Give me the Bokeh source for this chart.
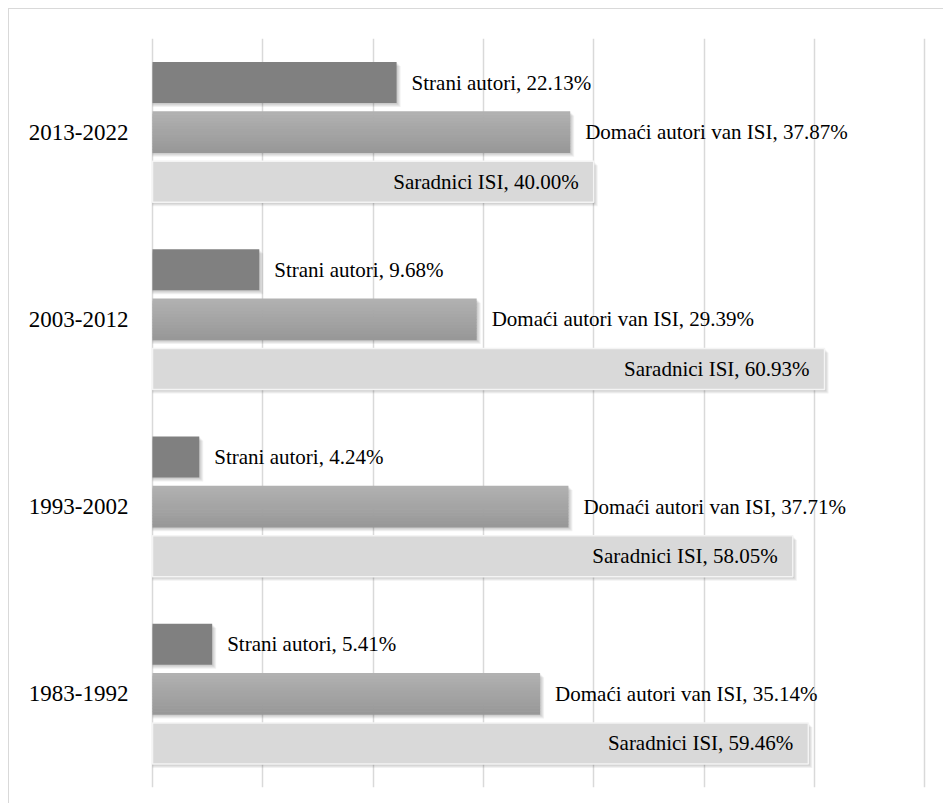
from bokeh.plotting import figure
from bokeh.models import ColumnDataSource, Range1d, FactorRange, FixedTicker
from bokeh.transform import dodge
from bokeh.core.properties import value
from bokeh.embed import file_html
from bokeh.resources import INLINE

# ---- data ----
periods = ["1983-1992", "1993-2002", "2003-2012", "2013-2022"]
strani = [5.41, 4.24, 9.68, 22.13]
domaci = [35.14, 37.71, 29.39, 37.87]
saradnici = [59.46, 58.05, 60.93, 40.00]
series_names = ["Strani autori", "Domaći autori van ISI", "Saradnici ISI"]
x_ticks = [0, 10, 20, 30, 40, 50, 60, 70]

# ---- layout constants ----
W, H = 935, 795
LEFT, TOP, BOTTOM = 134, 29, 17
PX_PER_UNIT = 11.03
X0 = -9 / PX_PER_UNIT
X1 = X0 + (W - LEFT) / PX_PER_UNIT
CAT_PX = (H - TOP - BOTTOM) / len(periods)
BAR_H = 0.219
OFF = 0.265
FONT = value("Liberation Serif")

src = ColumnDataSource(dict(
    period=periods,
    strani=strani,
    domaci=domaci,
    saradnici=saradnici,
    strani_lbl=[f"{series_names[0]}, {v:.2f}%" for v in strani],
    domaci_lbl=[f"{series_names[1]}, {v:.2f}%" for v in domaci],
    saradnici_lbl=[f"{series_names[2]}, {v:.2f}%" for v in saradnici],
))

p = figure(width=W, height=H,
           y_range=FactorRange(factors=periods),
           x_range=Range1d(X0, X1),
           output_backend="svg", toolbar_location=None,
           min_border_left=LEFT, min_border_right=0,
           min_border_top=TOP, min_border_bottom=BOTTOM)
p.styles = {"margin-left": "8px", "margin-top": "8px",
            "border-left": "1px solid #d9d9d9", "border-top": "1px solid #d9d9d9"}
p.outline_line_color = None
p.xaxis.visible = False
p.ygrid.visible = False
p.xgrid.ticker = FixedTicker(ticks=x_ticks)
p.xgrid.grid_line_color = "#d9d9d9"
p.xgrid.grid_line_width = 1.5
p.background_fill_color = "white"
p.border_fill_color = "white"

# category axis
yax = p.yaxis[0]
yax.axis_line_color = None
yax.major_tick_line_color = None
yax.minor_tick_line_color = None
yax.major_tick_in = 0
yax.major_tick_out = 0
yax.major_label_standoff = 15
yax.major_label_text_font = "Liberation Serif"
yax.major_label_text_font_size = "23px"
yax.major_label_text_color = "#000000"


def hexmix(c1, c2, t):
    a = [int(c1[i:i + 2], 16) for i in (1, 3, 5)]
    b = [int(c2[i:i + 2], 16) for i in (1, 3, 5)]
    return "#" + "".join(f"{round(a[k] + (b[k] - a[k]) * t):02x}" for k in range(3))


def shadow(col, offset):
    vals = src.data[col]
    for k in (1, 2, 3, 4):
        dx = k / PX_PER_UNIT
        dy = k / CAT_PX
        s = ColumnDataSource(dict(period=periods, r=[v + dx for v in vals]))
        p.hbar(y=dodge("period", offset - dy, range=p.y_range), left=0, right="r",
               height=BAR_H, fill_color="black", fill_alpha=0.055, line_color=None, source=s)


def gradient_bar(col, offset, top_c, bot_c, n=14):
    for i in range(n):
        t = (i + 0.5) / n
        y_off = offset + BAR_H / 2 - t * BAR_H
        p.hbar(y=dodge("period", y_off, range=p.y_range), left=0, right=col,
               height=BAR_H / n + 0.003, fill_color=hexmix(top_c, bot_c, t),
               line_color=None, source=src)


# shadows
shadow("strani", OFF)
shadow("domaci", 0)
shadow("saradnici", -OFF)

# bars
p.hbar(y=dodge("period", OFF, range=p.y_range), left=0, right="strani",
       height=BAR_H, fill_color="#808080", line_color=None, source=src)
gradient_bar("domaci", 0, "#b2b2b2", "#979797")
p.hbar(y=dodge("period", -OFF, range=p.y_range), left=0, right="saradnici",
       height=BAR_H, fill_color="#d9d9d9", line_color="#f4f4f4", line_width=1.5,
       source=src)

# labels
common = dict(text_font=FONT, text_font_size="21px", text_color="#000000",
              text_baseline="middle", source=src)
p.text(x="strani", y=dodge("period", OFF, range=p.y_range), text="strani_lbl",
       x_offset=15, text_align="left", **common)
p.text(x="domaci", y=dodge("period", 0, range=p.y_range), text="domaci_lbl",
       x_offset=15, text_align="left", **common)
p.text(x="saradnici", y=dodge("period", -OFF, range=p.y_range), text="saradnici_lbl",
       x_offset=-15, text_align="right", **common)

open("out.html", "w").write(file_html(p, INLINE))
